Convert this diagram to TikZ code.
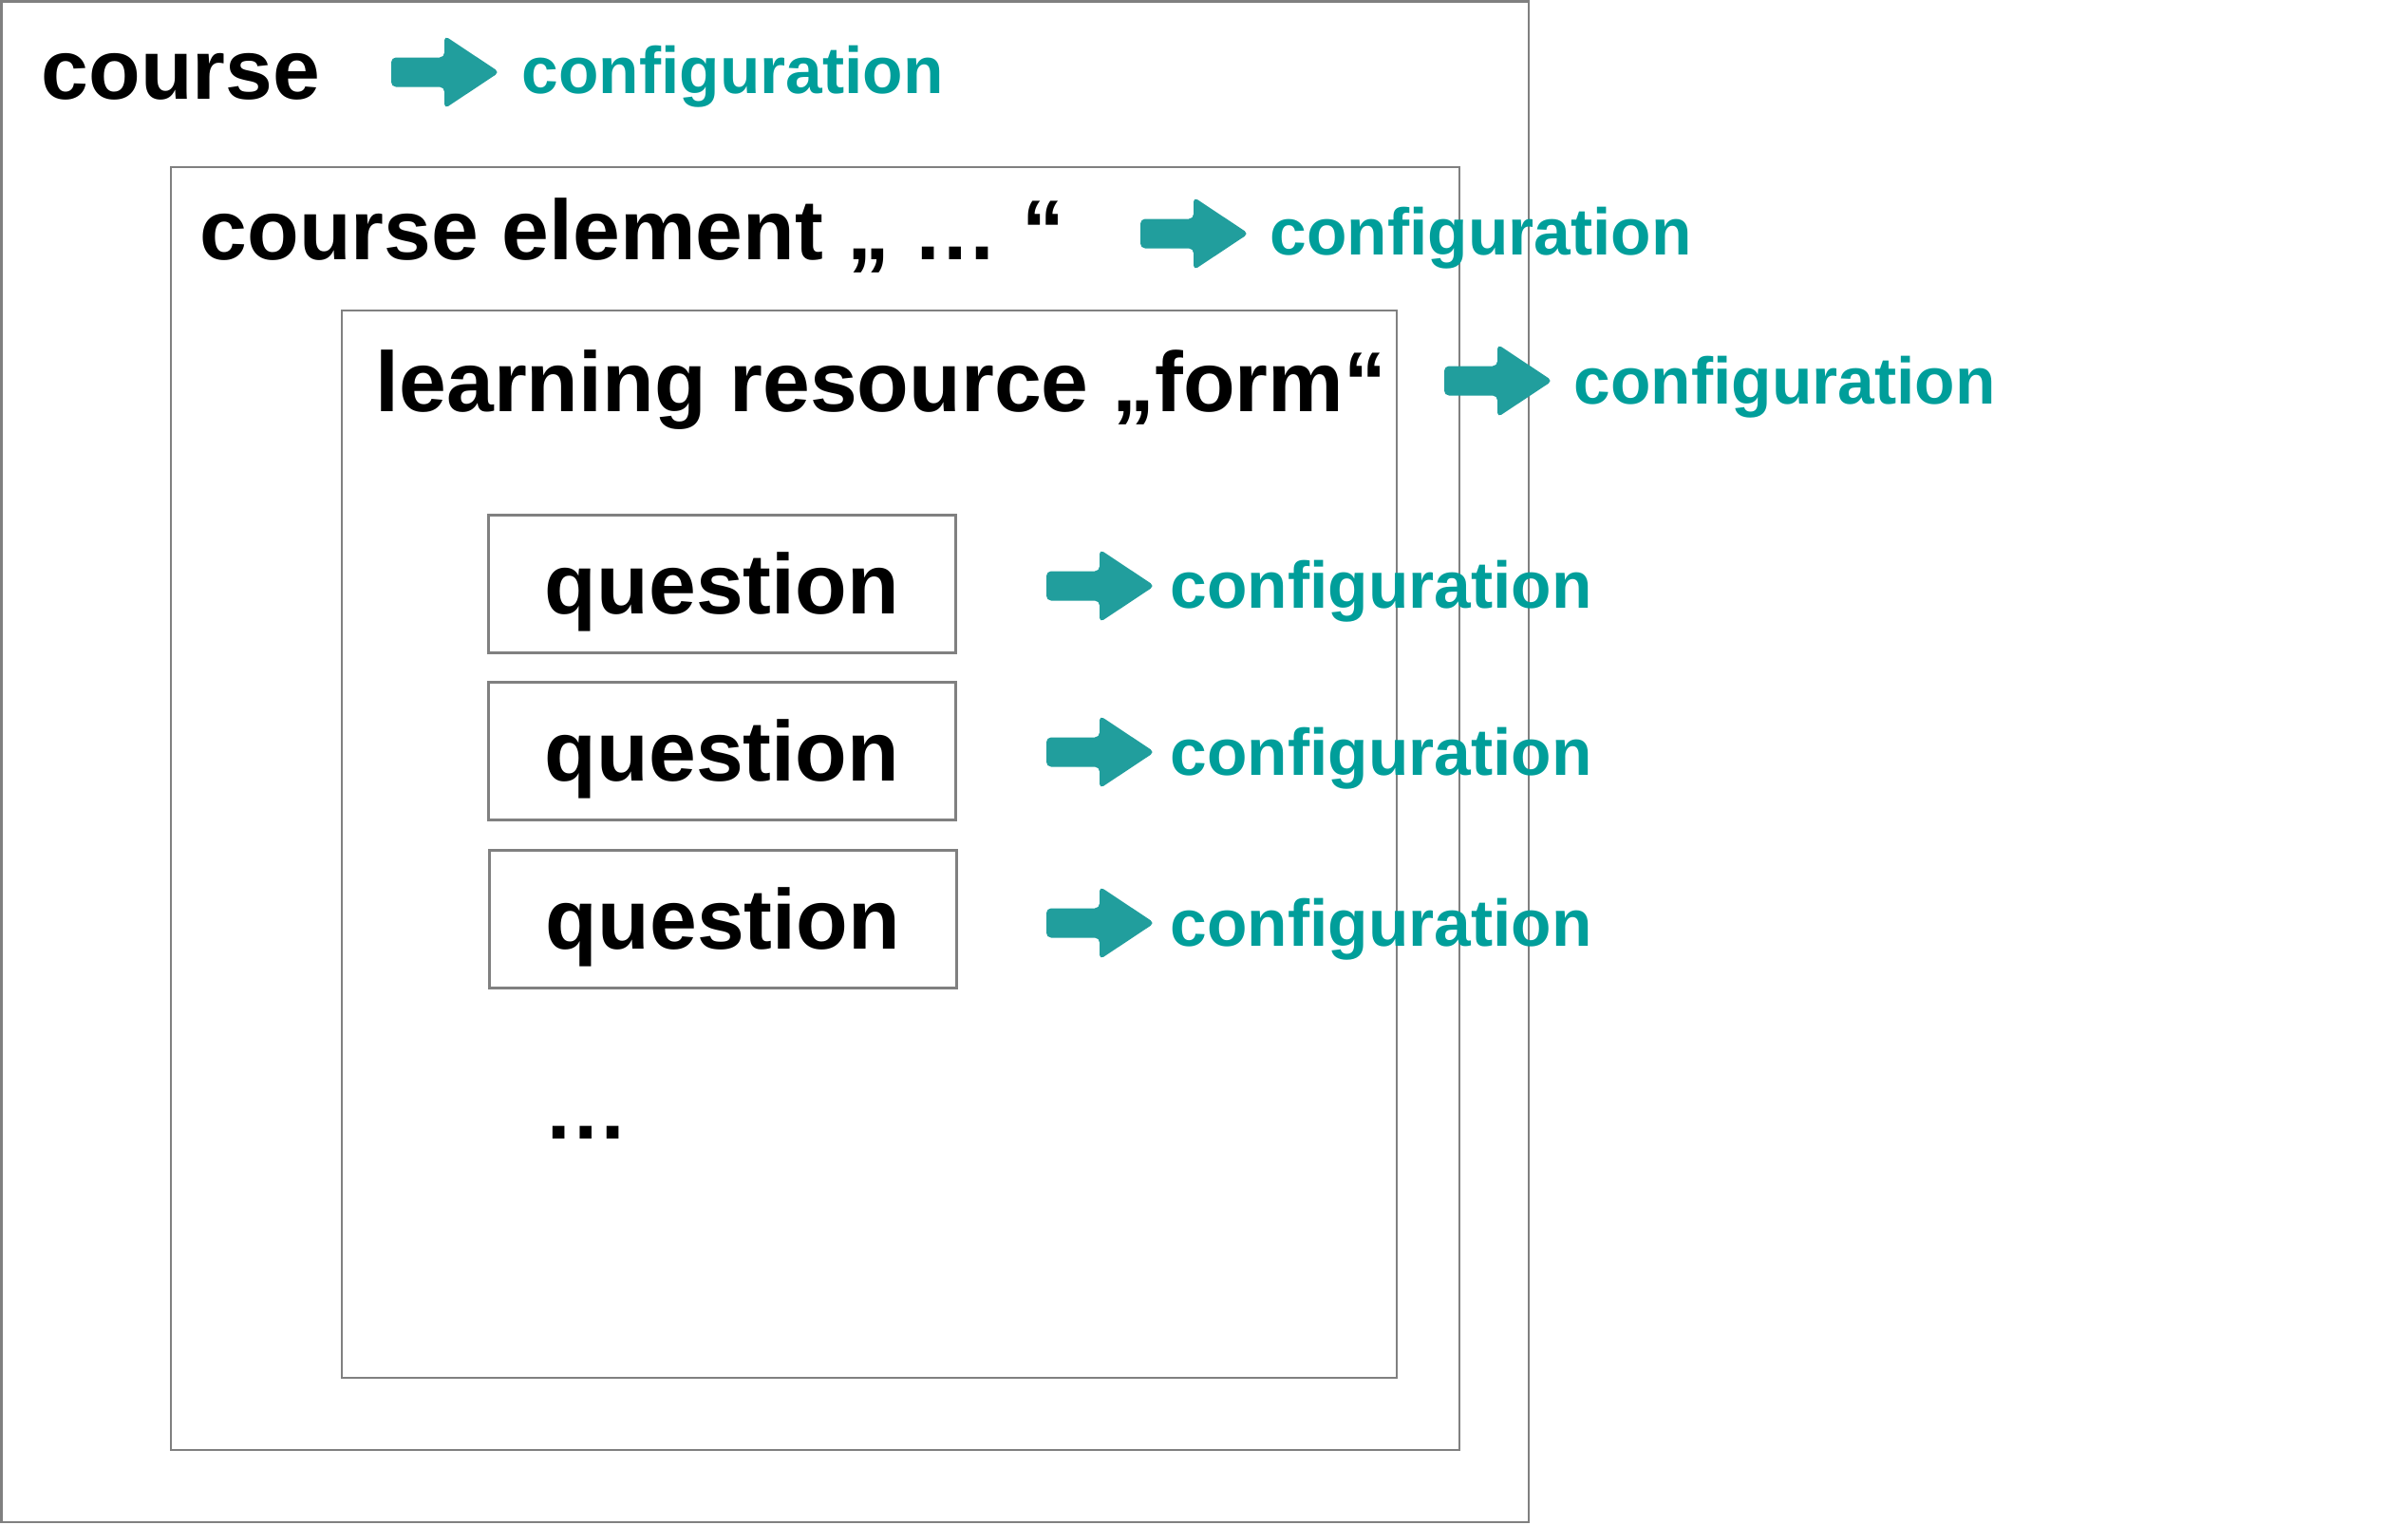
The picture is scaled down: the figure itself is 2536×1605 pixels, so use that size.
\documentclass[tikz,border=0pt]{standalone}
\usepackage{fontspec}
\setmainfont{Liberation Sans}
\definecolor{tealtext}{RGB}{0,158,154}
\definecolor{tealarrow}{RGB}{33,158,157}
\definecolor{boxgray}{RGB}{128,128,128}
\begin{document}
\begin{tikzpicture}[x=0.3pt,y=-0.3pt,
  frame/.style={draw=boxgray, line width=0.8pt},
  bigtext/.style={font=\bfseries\fontsize{26.85pt}{30pt}\selectfont, inner sep=0pt, anchor=base west},
  conftext/.style={font=\bfseries\fontsize{20.85pt}{24pt}\selectfont, text=tealtext, inner sep=0pt, anchor=base west},
  qbox/.style={draw=boxgray, line width=0.8pt, font=\bfseries\fontsize{26.85pt}{30pt}\selectfont,
    minimum width=147.6pt, minimum height=43.5pt, inner sep=0pt, text height=19.1pt, text depth=0pt, anchor=north west},
  blockarrow/.pic={\fill[tealarrow, rounded corners=1.5pt] (0,-15.5) -- (56,-15.5) -- (56,-38.5) -- (114,0) -- (56,38.5) -- (56,15.5) -- (0,15.5) -- cycle;}
]
\useasboundingbox (0,0) rectangle (2536,1605);
% frames
\draw[frame] (1.5,1.5) rectangle (1610,1603);
\draw[frame] (180,176) rectangle (1537,1527);
\draw[frame] (360,327) rectangle (1471,1451);
% titles
\node[bigtext] (course) at (43,104) {course};
\node[bigtext] (element) at (210,273) {course element „ … “};
\node[bigtext] (resource) at (395,433) {learning resource „form“};
% configurations
\pic at (412,76) {blockarrow};
\node[conftext] (conf1) at (549,98) {configuration};
\pic at (1201,246) {blockarrow};
\node[conftext] (conf2) at (1337,268) {configuration};
\pic at (1521,401) {blockarrow};
\node[conftext] (conf3) at (1657,425) {configuration};
% questions
\node[qbox] (q1) at (513,541) {question};
\node[qbox] (q2) at (513,717) {question};
\node[qbox] (q3) at (514,894) {question};
\pic at (1102,617) {blockarrow};
\node[conftext] (qc1) at (1232,640) {configuration};
\pic at (1102,792) {blockarrow};
\node[conftext] (qc2) at (1232,816) {configuration};
\pic at (1102,972) {blockarrow};
\node[conftext] (qc3) at (1232,996) {configuration};
\node[bigtext] (dots) at (572,1199) {…};
\end{tikzpicture}
\end{document}
